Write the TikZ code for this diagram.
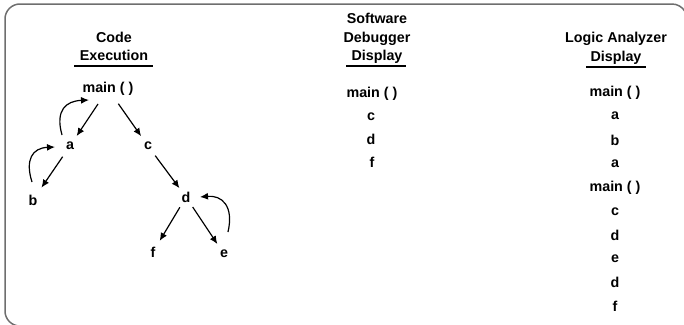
\documentclass[tikz,border=0pt]{standalone}
\usepackage{fontspec}
\setmainfont{Liberation Sans}
\usetikzlibrary{arrows.meta}
\definecolor{framegray}{RGB}{110,110,110}
\tikzset{
  lbl/.style={font=\fontsize{14.3}{16}\selectfont\bfseries, inner sep=0pt, anchor=center},
  hd/.style={font=\fontsize{14.3}{16}\selectfont\bfseries, inner sep=0pt, anchor=base},
  conn/.style={line width=1.2pt, -{Latex[length=8pt,width=7pt]}},
  uline/.style={line width=1.2pt},
}
\begin{document}
\begin{tikzpicture}[x=1pt,y=-1pt]
\useasboundingbox (0,0) rectangle (684,324);
\draw[framegray, line width=1.5pt, rounded corners=15pt] (672,4) -- (5,4) -- (5,326) -- (40,326);
\draw[framegray, line width=1.5pt] (672,4) arc[start angle=90, end angle=30, radius=15pt];

% headings
\node[hd] (h1a) at (114,42) {Code};
\node[hd] (h1b) at (114,60) {Execution};
\draw[uline] (74,66) -- (153,66);

\node[hd] (h2a) at (377,23) {Software};
\node[hd] (h2b) at (377,42) {Debugger};
\node[hd] (h2c) at (377,60) {Display};
\draw[uline] (346,66) -- (406,66);

\node[hd] (h3a) at (616,42) {Logic Analyzer};
\node[hd] (h3b) at (616,61) {Display};
\draw[uline] (586,67) -- (646,67);

% tree
\node[lbl] (tmain) at (108,89) {main ( )};
\node[lbl] (ta) at (70,146) {a};
\node[lbl] (tc) at (148,146) {c};
\node[lbl] (tb) at (33,200) {b};
\node[lbl] (td) at (186,197) {d};
\node[lbl] (tf) at (153,252) {f};
\node[lbl] (te) at (224,254) {e};

\draw[conn, shorten <=18pt, shorten >=12pt] (tmain.center) -- (ta.center);
\draw[conn, shorten <=18pt, shorten >=12pt] (tmain.center) -- (tc.center);
\draw[conn, shorten <=13pt, shorten >=15pt] (ta.center) -- (tb.center);
\draw[conn, shorten <=12pt, shorten >=11pt] (tc.center) -- (td.center);
\draw[conn, shorten <=12pt, shorten >=13pt] (td.center) -- (tf.center);
\draw[conn, shorten <=12pt, shorten >=12pt] (td.center) -- (te.center);

\draw[conn] ([shift={(-8,-11)}]ta.center) .. controls (55,110) and (66,101) .. ([shift={(-19,11)}]tmain.center);
\draw[conn] ([shift={(-1,-18)}]tb.center) .. controls (25,160) and (32,148) .. ([shift={(-15,1)}]ta.center);
\draw[conn] ([shift={(4,-22)}]te.center) .. controls (234,206) and (222,195) .. ([shift={(14,0)}]td.center);

% debugger list
\node[lbl] (m1) at (372,94) {main ( )};
\node[lbl] (m2) at (371,117) {c};
\node[lbl] (m3) at (371,139) {d};
\node[lbl] (m4) at (372,162) {f};

% logic analyzer list
\node[lbl] (r1) at (615,93) {main ( )};
\node[lbl] (r2) at (615,116) {a};
\node[lbl] (r3) at (615,140) {b};
\node[lbl] (r4) at (615,164) {a};
\node[lbl] (r5) at (615,188) {main ( )};
\node[lbl] (r6) at (615,212) {c};
\node[lbl] (r7) at (615,235) {d};
\node[lbl] (r8) at (615,259) {e};
\node[lbl] (r9) at (615,282) {d};
\node[lbl] (r10) at (615,306) {f};
\end{tikzpicture}
\end{document}
